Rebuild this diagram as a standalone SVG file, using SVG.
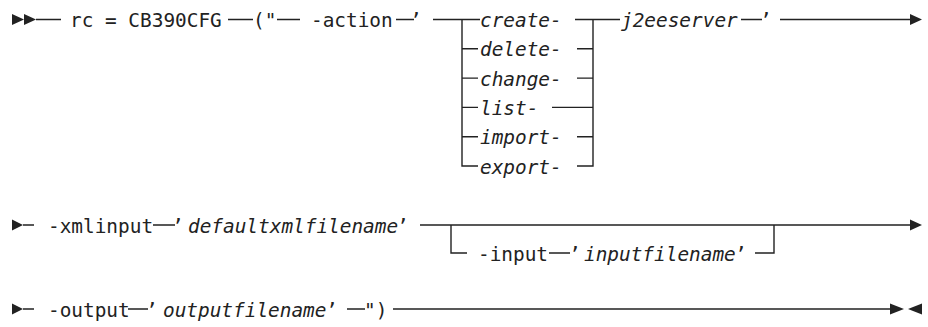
<svg xmlns="http://www.w3.org/2000/svg" width="928" height="327" viewBox="0 0 928 327">
<style>
text{font-family:"DejaVu Sans Mono","Liberation Mono",monospace;font-size:19.4px;fill:#222}
.v{font-style:italic}
.ln{fill:none;stroke:#222;stroke-width:1.4}
.ah{fill:#222;stroke:none}
</style>
<rect width="928" height="327" fill="#fff"/>
<g id="connectors">
<path class="ln" d="M36,19.5H61M228,19.5H253M277,19.5H300M396,19.5H414M433,19.5H480"/>
<path class="ln" d="M462,19.5V166H478M462,48.8H478M462,78.1H478M462,107.4H478M462,136.7H478"/>
<path class="ln" d="M575,19.5H620M577,166H593V19.5M577,48.8H593M577,78.1H593M552,107.4H593M577,136.7H593"/>
<path class="ln" d="M741,19.5H762M780,19.5H911"/>
<path class="ln" d="M23,225H34M153,225H175M420,225H911"/>
<path class="ln" d="M451,225V253H467M549,253H570M755,253H774V225"/>
<path class="ln" d="M23,309H34M128,309H148M347,309H365M393,309H891"/>
<polygon class="ah" points="12,14 24,19.5 12,25"/>
<polygon class="ah" points="24,14 36,19.5 24,25"/>
<polygon class="ah" points="910,14 922,19.5 910,25"/>
<polygon class="ah" points="12,219.5 23,225 12,230.5"/>
<polygon class="ah" points="910,219.5 922,225 910,230.5"/>
<polygon class="ah" points="12,303.5 23,309 12,314.5"/>
<polygon class="ah" points="890,303.5 904,309 890,314.5"/>
<polygon class="ah" points="922,303.5 908,309 922,314.5"/>
</g>
<g id="n-rc"><text x="70" y="27">rc = CB390CFG</text></g>
<g id="n-open"><text x="253" y="27">("</text></g>
<g id="n-action"><text x="311" y="27">-action</text><text x="410" y="27">’</text></g>
<g id="n-create"><text class="v" x="480" y="27">create-</text></g>
<g id="n-delete"><text class="v" x="480" y="56.3">delete-</text></g>
<g id="n-change"><text class="v" x="480" y="85.6">change-</text></g>
<g id="n-list"><text class="v" x="480" y="114.9">list-</text></g>
<g id="n-import"><text class="v" x="480" y="144.2">import-</text></g>
<g id="n-export"><text class="v" x="480" y="173.5">export-</text></g>
<g id="n-j2ee"><text class="v" x="621" y="27">j2eeserver</text><text x="760" y="27">’</text></g>
<g id="n-xmlinput"><text x="48" y="232.5">-xmlinput</text><text x="172" y="232.5">’</text></g>
<g id="n-defaultxml"><text class="v" x="188" y="232.5">defaultxmlfilename</text><text x="397" y="232.5">’</text></g>
<g id="n-input"><text x="478" y="260.5">-input</text><text x="569" y="260.5">’</text><text class="v" x="584" y="260.5">inputfilename</text><text x="735" y="260.5">’</text></g>
<g id="n-output"><text x="48" y="316.5">-output</text><text x="146" y="316.5">’</text></g>
<g id="n-outputfile"><text class="v" x="163" y="316.5">outputfilename</text><text x="326" y="316.5">’</text></g>
<g id="n-close"><text x="364" y="316.5">")</text></g>
</svg>
